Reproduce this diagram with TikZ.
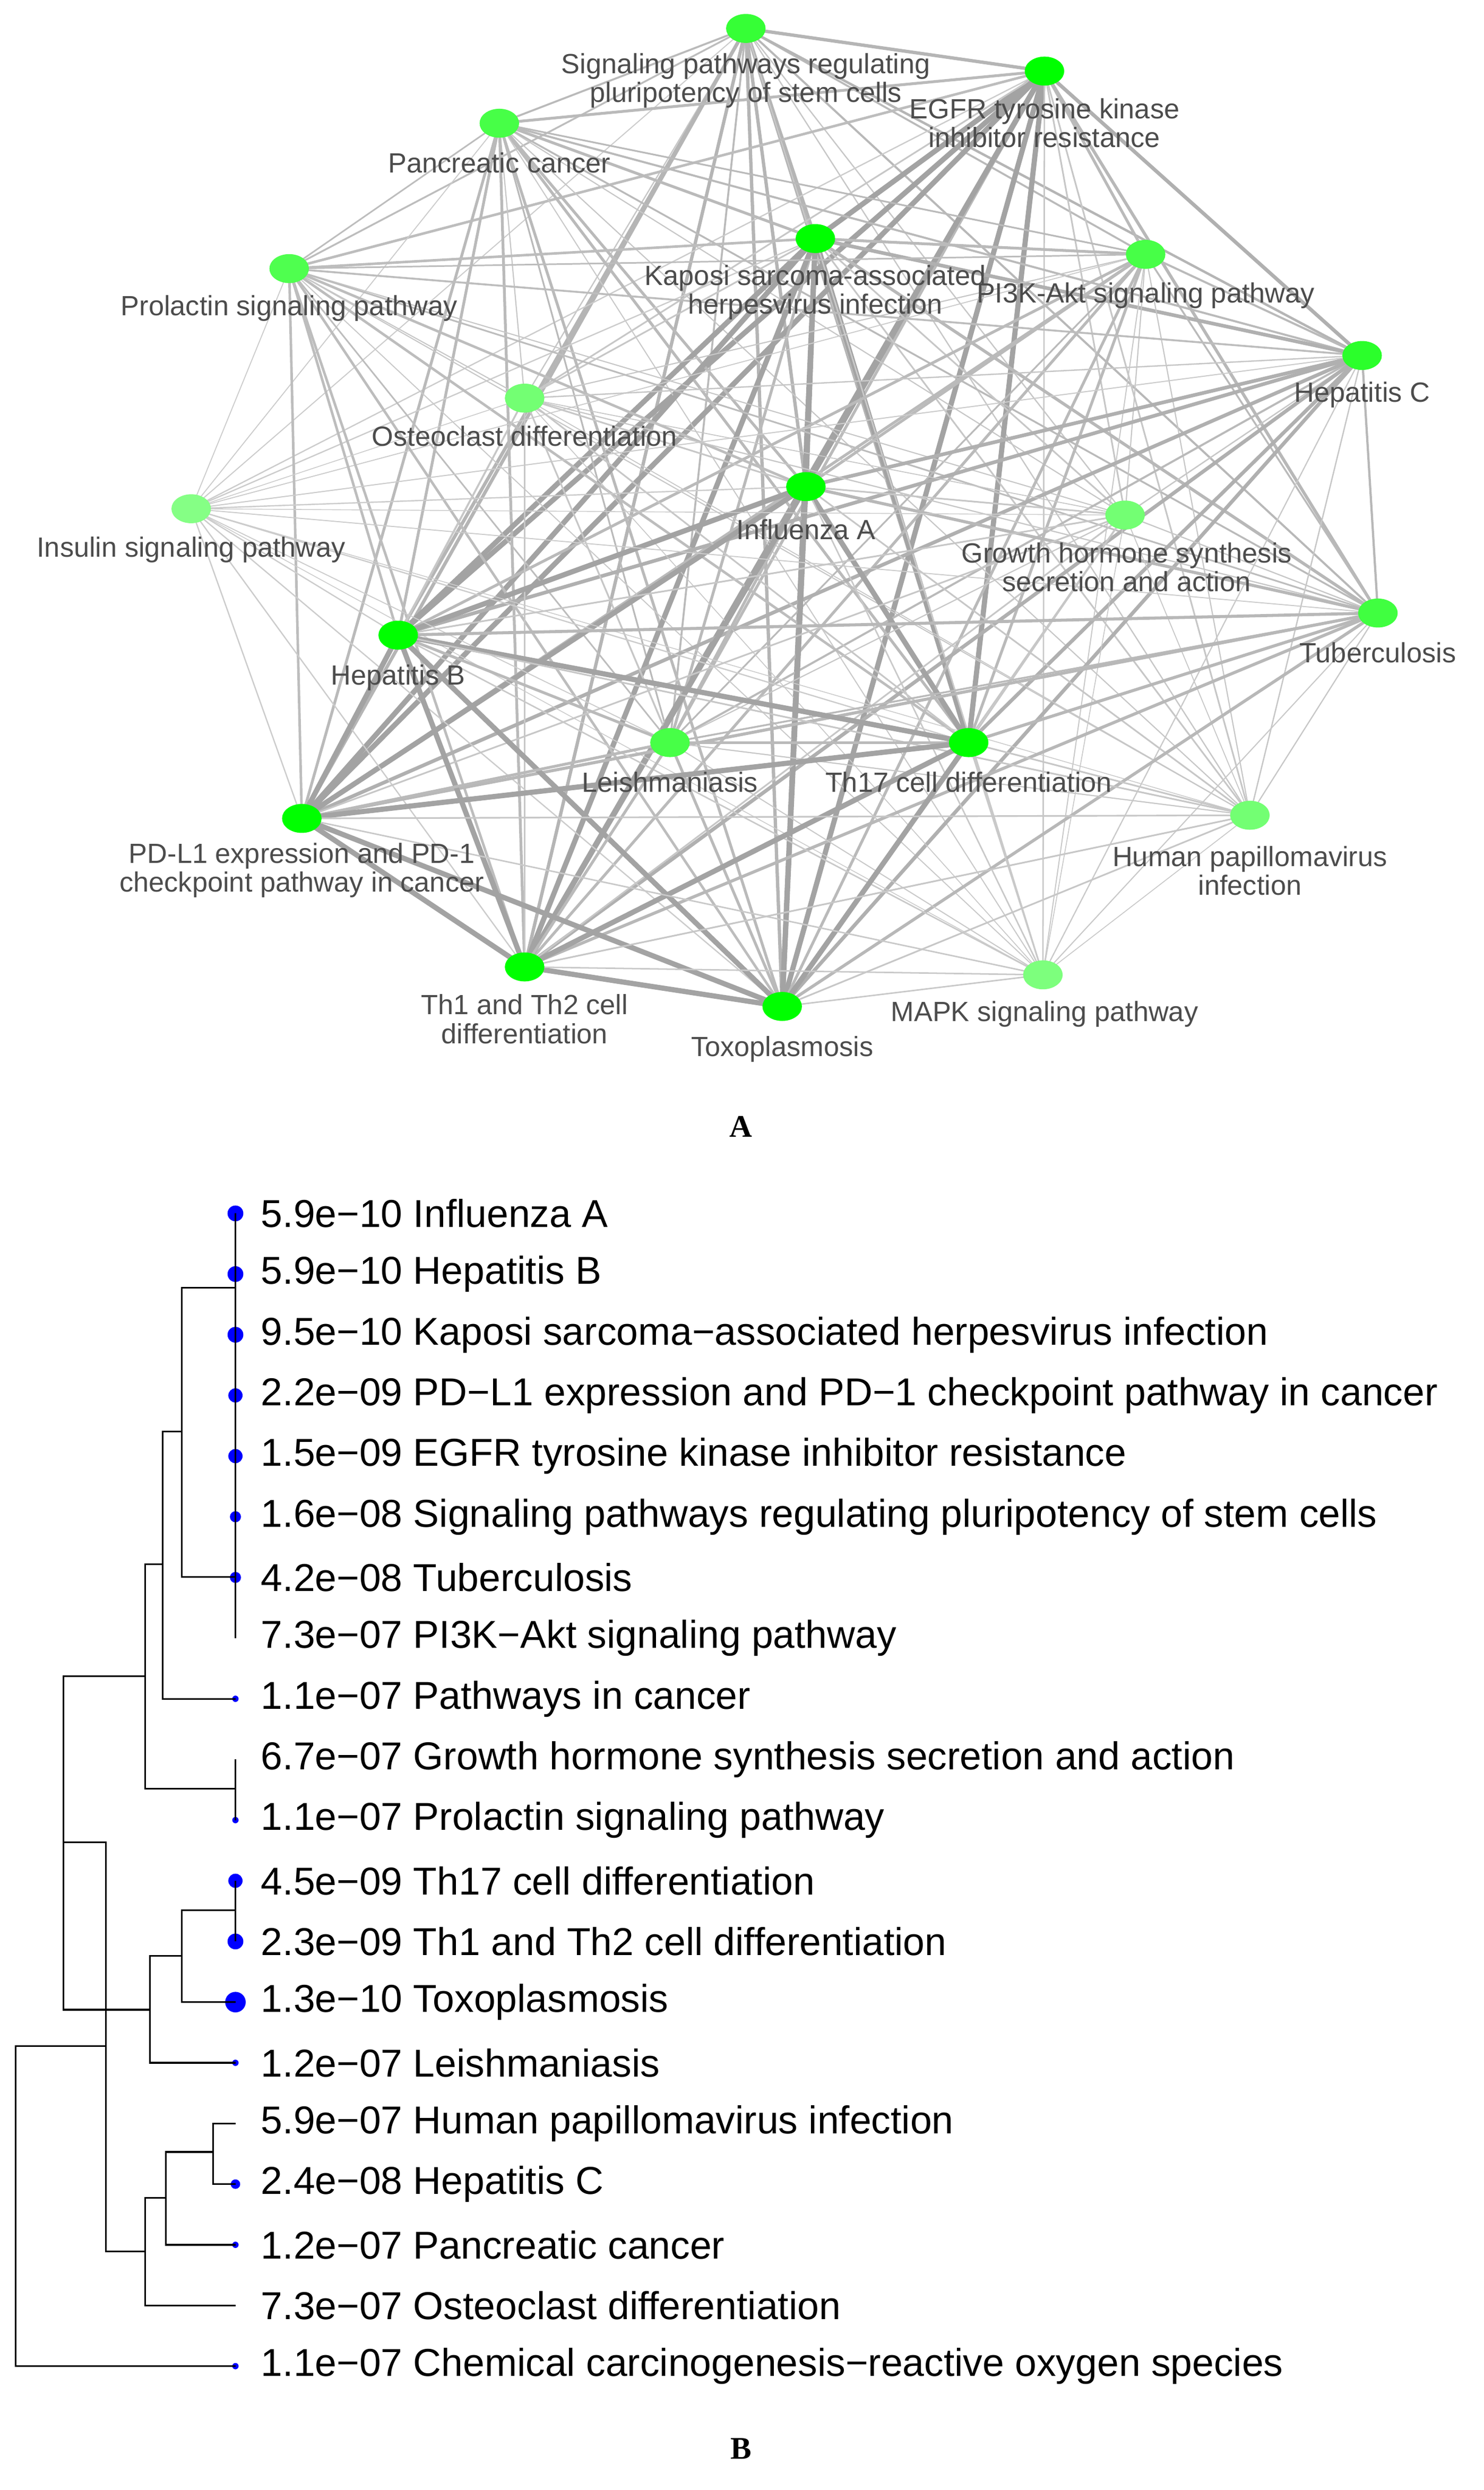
\documentclass[tikz,border=0pt]{standalone}
\usepackage{fontspec}
\setmainfont{Liberation Sans}
\newfontfamily\serifB{Liberation Serif}
\tikzset{
  pw/.style={ellipse,minimum width=0.75cm,minimum height=0.55cm,inner sep=0pt},
  nlab/.style={text=black!70,font=\fontsize{15}{15.5}\selectfont,align=center,inner sep=0pt},
  leaf/.style={anchor=west,font=\fontsize{21}{23}\selectfont,inner sep=0pt},
  tree/.style={line width=0.9pt},
  panel/.style={font=\serifB\bfseries\fontsize{17}{18}\selectfont}
}
\usetikzlibrary{shapes.geometric}
\begin{document}
\begin{tikzpicture}[x=0.03cm,y=-0.03cm]
\useasboundingbox (0,0) rectangle (939,1576);
% A: network
\foreach \n/\x/\y/\w in {1/472/18/0.7,2/661/45/1,3/316/78/0.6,4/516/151/1,5/725/161/0.6,
  6/183/170/0.55,7/862/225/0.75,8/332/252/0.35,9/510/308/1,10/121/322/0.25,
  11/712/326/0.35,12/872/388/0.65,13/252/402/1,14/424/470/0.6,15/613/470/1,
  16/191/518/1,17/791/516/0.35,18/332/612/1,19/495/637/1,20/660/617/0.3}{
  \coordinate (n\n) at (\x,\y);
  \expandafter\xdef\csname w\n\endcsname{\w}
}
\foreach \i in {1,...,19}{
  \pgfmathtruncatemacro\s{\i+1}
  \foreach \j in {\s,...,20}{
    \pgfmathsetmacro\lw{0.4+2.4*(\csname w\i\endcsname*\csname w\j\endcsname)^1.5}
    \pgfmathtruncatemacro\op{round(14+22*min(\csname w\i\endcsname,\csname w\j\endcsname))}
    \draw[line width=\lw pt,black!\op] (n\i) -- (n\j);
  }
}
\foreach \n/\x/\y/\w in {1/472/18/0.7,2/661/45/1,3/316/78/0.6,4/516/151/1,5/725/161/0.6,
  6/183/170/0.55,7/862/225/0.75,8/332/252/0.35,9/510/308/1,10/121/322/0.25,
  11/712/326/0.35,12/872/388/0.65,13/252/402/1,14/424/470/0.6,15/613/470/1,
  16/191/518/1,17/791/516/0.35,18/332/612/1,19/495/637/1,20/660/617/0.3}{
  \pgfmathtruncatemacro\g{round(30+70*\w)}
  \node[pw,fill=green!\g!white] (p\n) at (n\n) {};
}
% labels
\node[nlab] (t1) at (472,51) {Signaling pathways regulating\\pluripotency of stem cells};
\node[nlab] (t2) at (661,78) {EGFR tyrosine kinase\\inhibitor resistance};
\node[nlab] (t3) at (316,103) {Pancreatic cancer};
\node[nlab] (t4) at (516,185) {Kaposi sarcoma-associated\\herpesvirus infection};
\node[nlab] (t5) at (725,187) {PI3K-Akt signaling pathway};
\node[nlab] (t6) at (183,195) {Prolactin signaling pathway};
\node[nlab] (t7) at (862,250) {Hepatitis C};
\node[nlab] (t8) at (332,276) {Osteoclast differentiation};
\node[nlab] (t9) at (510,335) {Influenza A};
\node[nlab] (t10) at (121,348) {Insulin signaling pathway};
\node[nlab] (t11) at (713,359) {Growth hormone synthesis\\secretion and action};
\node[nlab] (t12) at (872,413) {Tuberculosis};
\node[nlab] (t13) at (252,429) {Hepatitis B};
\node[nlab] (t14) at (424,495) {Leishmaniasis};
\node[nlab] (t15) at (613,495) {Th17 cell differentiation};
\node[nlab] (t16) at (191,551) {PD-L1 expression and PD-1\\checkpoint pathway in cancer};
\node[nlab] (t17) at (791,551) {Human papillomavirus\\infection};
\node[nlab] (t18) at (332,645) {Th1 and Th2 cell\\differentiation};
\node[nlab] (t19) at (495,664) {Toxoplasmosis};
\node[nlab] (t20) at (661,642) {MAPK signaling pathway};
\node[panel] (pA) at (469,713) {A};
% B: dendrogram
\foreach \n/\r/\t in {1/5/5.9e−10 Influenza A,2/5/5.9e−10 Hepatitis B,
  3/5/9.5e−10 Kaposi sarcoma−associated herpesvirus infection,
  4/4.5/2.2e−09 PD−L1 expression and PD−1 checkpoint pathway in cancer,
  5/4.5/1.5e−09 EGFR tyrosine kinase inhibitor resistance,
  6/3.5/1.6e−08 Signaling pathways regulating pluripotency of stem cells,
  7/3.5/4.2e−08 Tuberculosis,8/0/7.3e−07 PI3K−Akt signaling pathway,
  9/2/1.1e−07 Pathways in cancer,10/0/6.7e−07 Growth hormone synthesis secretion and action,
  11/2/1.1e−07 Prolactin signaling pathway,12/4.5/4.5e−09 Th17 cell differentiation,
  13/5/2.3e−09 Th1 and Th2 cell differentiation,14/6.5/1.3e−10 Toxoplasmosis,
  15/2/1.2e−07 Leishmaniasis,16/0/5.9e−07 Human papillomavirus infection,
  17/3/2.4e−08 Hepatitis C,18/2/1.2e−07 Pancreatic cancer,
  19/0/7.3e−07 Osteoclast differentiation,
  20/2/1.1e−07 Chemical carcinogenesis−reactive oxygen species}{
  \coordinate (L\n) at (149,729.6+38.4*\n);
  \ifdim\r pt>0pt \fill[blue] (L\n) circle (\r*0.03cm); \fi
  \node[leaf] (lb\n) at (165,729.6+38.4*\n) {\t};
}
\coordinate (a1) at (149,815);
\coordinate (a2) at (149,998);
\coordinate (b) at (115,906);
\coordinate (c) at (103,990);
\coordinate (d) at (149,1132);
\coordinate (e) at (92,1061);
\coordinate (f) at (149,1209);
\coordinate (g) at (115,1238);
\coordinate (h) at (95,1272);
\coordinate (i) at (40,1166);
\coordinate (j) at (135,1362);
\coordinate (k) at (105,1391);
\coordinate (l) at (92,1425);
\coordinate (m) at (67,1295);
\coordinate (root) at (10,1396);
\foreach \p/\c in {a1/L1,a1/L2,a1/L3,a1/L4,a2/L5,a2/L6,a2/L7,a2/L8,a1/a2,b/a1,b/a2,
  c/b,c/L9,d/L10,d/L11,e/c,e/d,f/L12,f/L13,g/f,g/L14,h/g,h/L15,i/e,i/h,
  j/L16,j/L17,k/j,k/L18,l/k,l/L19,m/i,m/l,root/m,root/L20}
  \draw[tree] (\p) |- (\c);
\node[panel] (pB) at (469,1550) {B};
\end{tikzpicture}
\end{document}
